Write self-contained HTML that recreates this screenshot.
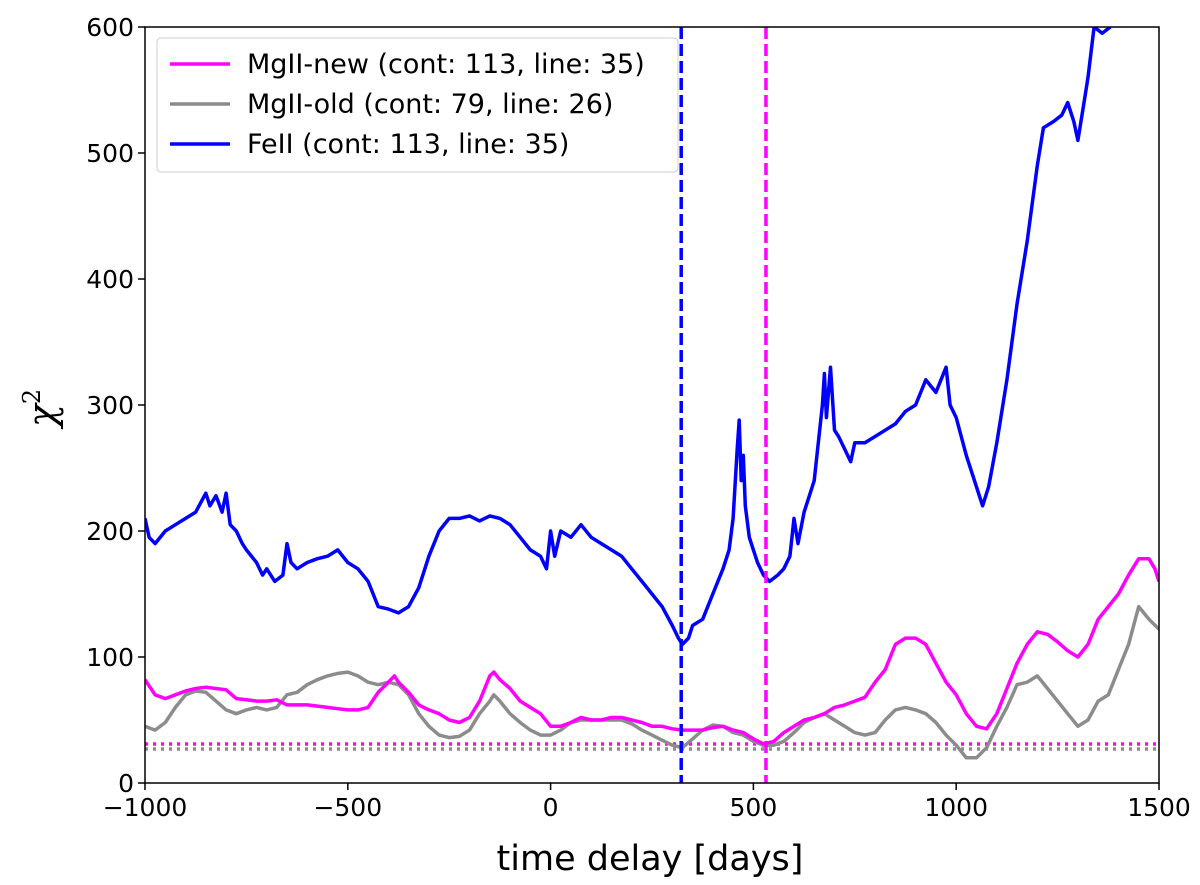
<!DOCTYPE html>
<html><head><meta charset="utf-8"><style>
body{margin:0;background:#fff}
svg{font-family:"DejaVu Sans","Liberation Sans",sans-serif}
</style></head><body>
<svg id="chart" width="1200" height="880"></svg>
<script>
const blueX=[-1000,-990,-975,-950,-925,-900,-875,-850,-840,-825,-810,-800,-790,-775,-760,-750,-725,-710,-700,-680,-660,-650,-640,-625,-600,-575,-550,-525,-500,-475,-450,-425,-400,-375,-350,-325,-300,-275,-250,-225,-200,-175,-150,-125,-100,-75,-50,-25,-10,0,10,25,50,75,100,125,150,175,200,225,250,275,300,315,325,340,350,375,400,425,440,450,460,465,470,475,480,490,500,510,525,540,560,575,590,600,610,625,640,650,660,670,675,680,690,700,710,725,740,750,775,800,825,850,875,900,925,950,975,985,1000,1025,1050,1065,1080,1100,1125,1150,1175,1200,1215,1240,1260,1275,1290,1300,1315,1325,1340,1360,1380];
const blueY=[210,195,190,200,205,210,215,230,220,228,215,230,205,200,190,185,175,165,170,160,165,190,175,170,175,178,180,185,175,170,160,140,138,135,140,155,180,200,210,210,212,208,212,210,205,195,185,180,170,200,180,200,195,205,195,190,185,180,170,160,150,140,125,115,110,115,125,130,150,170,185,210,265,288,240,260,220,195,185,175,165,160,165,170,180,210,190,215,230,240,270,300,325,290,330,280,275,265,255,270,270,275,280,285,295,300,320,310,330,300,290,260,235,220,235,270,320,380,430,490,520,525,530,540,525,510,540,560,600,595,600];
const magX=[-1000,-975,-950,-925,-900,-875,-850,-825,-800,-775,-750,-725,-700,-675,-650,-625,-600,-575,-550,-525,-500,-475,-450,-425,-400,-385,-375,-350,-325,-300,-275,-250,-225,-200,-175,-150,-140,-125,-100,-75,-50,-25,0,25,50,75,100,125,150,175,200,225,250,275,300,325,350,375,400,425,450,475,500,525,550,575,600,625,650,675,700,725,750,775,800,825,850,875,900,925,950,975,1000,1025,1050,1075,1100,1125,1150,1175,1200,1225,1250,1275,1300,1325,1350,1375,1400,1425,1450,1475,1490,1500];
const magY=[82,70,67,70,73,75,76,75,74,67,66,65,65,66,62,62,62,61,60,59,58,58,60,72,80,85,80,72,62,58,55,50,48,52,65,85,88,82,75,65,60,55,45,45,48,52,50,50,52,52,50,48,45,45,43,42,42,42,44,45,42,40,35,31,33,40,45,50,52,55,60,62,65,68,80,90,110,115,115,110,95,80,70,55,45,43,55,75,95,110,120,118,112,105,100,110,130,140,150,165,178,178,170,160];
const grayX=[-1000,-975,-950,-925,-900,-875,-850,-825,-800,-775,-750,-725,-700,-675,-650,-625,-600,-575,-550,-525,-500,-475,-450,-425,-400,-375,-350,-325,-300,-275,-250,-225,-200,-175,-150,-140,-125,-100,-75,-50,-25,0,25,50,75,100,125,150,175,200,225,250,275,300,325,350,375,400,425,450,475,500,525,550,575,600,625,650,675,700,725,750,775,800,825,850,875,900,925,950,975,1000,1025,1050,1075,1100,1125,1150,1175,1200,1225,1250,1275,1300,1325,1350,1375,1400,1425,1450,1475,1500];
const grayY=[45,42,48,60,70,73,72,65,58,55,58,60,58,60,70,72,78,82,85,87,88,85,80,78,80,78,70,55,45,38,36,37,42,55,65,70,65,55,48,42,38,38,42,48,50,50,50,50,50,47,42,38,34,30,28,35,42,46,45,40,38,33,30,30,33,40,48,52,55,50,45,40,38,40,50,58,60,58,55,48,38,30,20,20,28,45,60,78,80,85,75,65,55,45,50,65,70,90,110,140,130,122];
const xTicks=[-1000,-500,0,500,1000,1500];
const yTicks=[0,100,200,300,400,500,600];
const vLines=[{v:322,c:"#0000ff"},{v:531,c:"#ff00ff"}];
const hLines=[{v:31,c:"#ff00ff"},{v:27,c:"#8c8c8c"}];

const L=145,R=1159,T=27,B=783;
const sx=v=>L+(v+1000)/2500*(R-L);
const sy=v=>B-v/600*(B-T);
const svg=document.getElementById('chart');
const NS="http://www.w3.org/2000/svg";
function mk(tag,attrs,parent){const e=document.createElementNS(NS,tag);for(const k in attrs)e.setAttribute(k,attrs[k]);(parent||svg).appendChild(e);return e;}

const clip=mk('clipPath',{id:'pc'});mk('rect',{x:L,y:T,width:R-L,height:B-T},clip);
const plot=mk('g',{'clip-path':'url(#pc)'});



hLines.forEach((h,i)=>{const l=mk('line',{x1:L,x2:R,y1:sy(h.v),y2:sy(h.v),stroke:h.c,'stroke-width':3.5,'stroke-dasharray':'3,5'},plot);

});

function series(xs,ys,color,name){const p=mk('path',{d:xs.map((x,i)=>(i?'L':'M')+sx(x).toFixed(1)+','+sy(ys[i]).toFixed(1)).join(''),fill:'none',stroke:color,'stroke-width':3.5,'stroke-linejoin':'round'},plot);

}
series(grayX,grayY,'#8c8c8c','series-mgii-old');
series(magX,magY,'#ff00ff','series-mgii-new');
series(blueX,blueY,'#0000ff','series-feii');

vLines.forEach((v,i)=>{const l=mk('line',{x1:sx(v.v),x2:sx(v.v),y1:T,y2:B,stroke:v.c,'stroke-width':3.5,'stroke-dasharray':'12,5'},plot);

});

const frame=mk('rect',{x:L,y:T,width:R-L,height:B-T,fill:'none',stroke:'#000','stroke-width':1.5});



xTicks.forEach(t=>{mk('line',{x1:sx(t),x2:sx(t),y1:B,y2:B+7,stroke:'#000','stroke-width':1.5});
const tx=mk('text',{x:sx(t),y:B+33,'text-anchor':'middle','font-size':25});tx.textContent=(t<0?'\u2212'+(-t):t);

});
yTicks.forEach(t=>{mk('line',{x1:L-7,x2:L,y1:sy(t),y2:sy(t),stroke:'#000','stroke-width':1.5});
const tx=mk('text',{x:L-11,y:sy(t)+9,'text-anchor':'end','font-size':25});tx.textContent=t;

});
</script>
<svg width="1200" height="880" style="position:absolute;left:0;top:0">
<text x="650" y="870" text-anchor="middle" font-size="35" font-family="DejaVu Sans,sans-serif">time delay [days]</text>
<text transform="translate(55,408) rotate(-90)" text-anchor="middle" font-size="38" font-family="DejaVu Serif,serif" font-style="italic">χ<tspan font-size="24" dy="-15" font-style="normal">2</tspan></text>
<g font-family="DejaVu Sans,sans-serif" font-size="27">
<rect x="157" y="38" width="521" height="134" rx="4" fill="#fff" fill-opacity="0.85" stroke="#ccc"/>
<line x1="170" x2="230" y1="64" y2="64" stroke="#ff00ff" stroke-width="3.5"/>
<text x="247" y="73">MgII-new (cont: 113, line: 35)</text>
<line x1="170" x2="230" y1="104" y2="104" stroke="#8c8c8c" stroke-width="3.5"/>
<text x="247" y="113">MgII-old (cont: 79, line: 26)</text>
<line x1="170" x2="230" y1="144" y2="144" stroke="#0000ff" stroke-width="3.5"/>
<text x="247" y="153">FeII (cont: 113, line: 35)</text>
</g>
</svg>
</body></html>
